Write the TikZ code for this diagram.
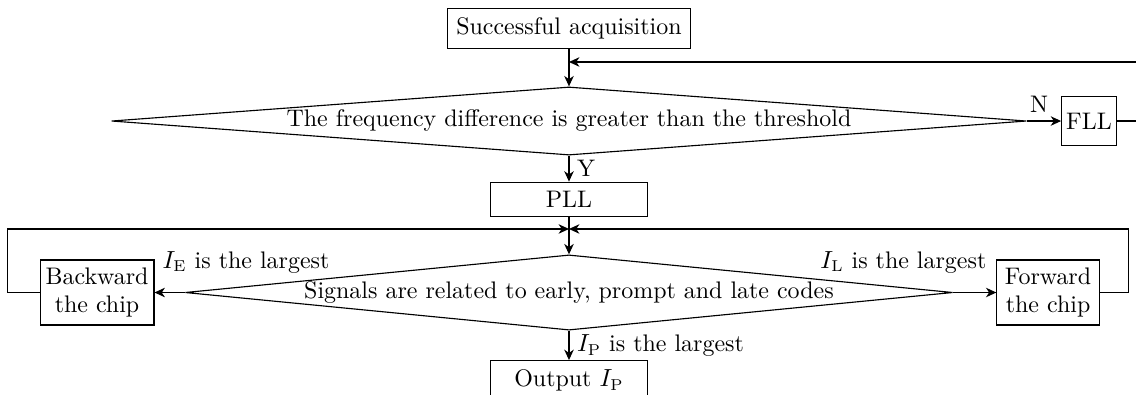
\documentclass[tikz,border=0pt]{standalone}
\usetikzlibrary{shapes.geometric,arrows.meta}

\tikzset{
  blk/.style={draw, rectangle, inner sep=2pt, align=center},
  dec/.style={draw, diamond, inner sep=0pt},
  >={Stealth[length=4.6pt, width=4.2pt, inset=1.4pt]},
}

\begin{document}
\begin{tikzpicture}[font=\fontsize{10.6pt}{12.8pt}\selectfont, line width=0.5pt]
  \useasboundingbox (0,0) rectangle (17.667,-6.128);

  % blocks
  \node[blk, minimum width=3.79cm, minimum height=0.61cm] (acq) at (8.849,-0.443) {Successful acquisition};
  \node[dec, aspect=13.5, minimum width=14.23cm, minimum height=1.06cm] (freq) at (8.849,-1.882) {The frequency difference is greater than the threshold};
  \node[blk, minimum width=0.84cm, minimum height=0.75cm] (fll) at (16.936,-1.882) {FLL};
  \node[blk, minimum width=2.43cm, minimum height=0.54cm] (pll) at (8.849,-3.103) {PLL};
  \node[dec, aspect=10.2, minimum width=11.94cm, minimum height=1.17cm] (corr) at (8.849,-4.549) {Signals are related to early, prompt and late codes};
  \node[blk, minimum width=1.77cm, minimum height=1.01cm] (back) at (1.509,-4.549) {Backward\\the chip};
  \node[blk, minimum width=1.59cm, minimum height=1.01cm] (fwd) at (16.299,-4.549) {Forward\\the chip};
  \node[blk, minimum width=2.43cm, minimum height=0.62cm, anchor=north] (out) at (8.849,-5.600) {Output $I_{\mathrm{P}}$};

  \coordinate (top) at (8.849,-0.964);
  \coordinate (mid) at (8.849,-3.561);

  % frequency loop
  \draw[->] (acq) -- (freq);
  \draw[->] (freq.east) -- (fll.west) node (lblN) [pos=0.35, above] {N};
  \draw[->] (fll.east) -- ++(0.9,0) |- (top);
  \draw[->] (freq) -- (pll) node (lblY) [midway, right] {Y};

  % code loop
  \draw[->] (pll) -- (corr);
  \draw[->] (corr.west) -- (back.east);
  \draw[->] (corr.east) -- (fwd.west);
  \draw[->] (back.west) -- ++(-0.5,0) |- (mid);
  \draw[->] (fwd.east) -- ++(0.45,0) |- (mid);
  \draw[->] (corr) -- (out) node (lblP) [midway, right] {$I_{\mathrm{P}}$ is the largest};

  \node (lblE) at (3.826,-4.075) {$I_{\mathrm{E}}$ is the largest};
  \node (lblL) at (14.05,-4.075) {$I_{\mathrm{L}}$ is the largest};
\end{tikzpicture}
\end{document}
